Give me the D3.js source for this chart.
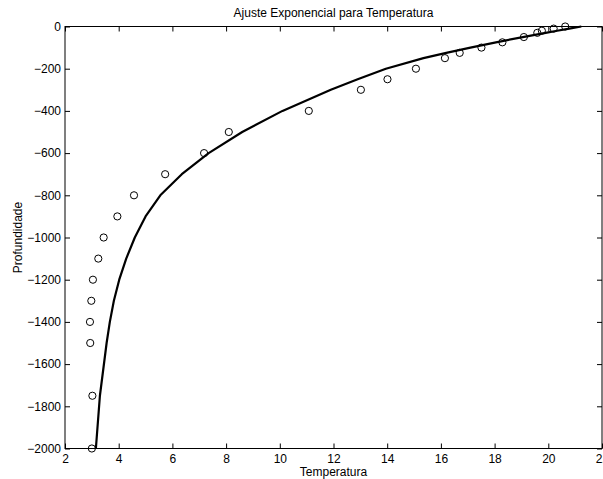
<!DOCTYPE html>
<html>
<head>
<meta charset="utf-8">
<script src="https://cdn.jsdelivr.net/npm/d3@7"></script>
<style>
  html, body { margin: 0; padding: 0; background: #fff; }
  svg { display: block; font-family: "Liberation Sans", Arial, Helvetica, sans-serif; }
</style>
</head>
<body>
<svg id="chart" width="603" height="479"></svg>
<script>
// ---- data ----
const depths   = [0, -10, -20, -30, -50, -75, -100, -125, -150, -200, -250, -300, -400, -500, -600, -700, -800, -900, -1000, -1100, -1200, -1300, -1400, -1500, -1750, -2000];
const tempObs  = [20.63, 20.2, 19.76, 19.59, 19.09, 18.29, 17.51, 16.70, 16.15, 15.07, 14.01, 13.02, 11.08, 8.1, 7.18, 5.73, 4.57, 3.95, 3.44, 3.24, 3.04, 2.98, 2.93, 2.94, 3.02, 3.0];
const tempFit  = [21.23, 20.78, 20.33, 19.9, 19.05, 18.05, 17.1, 16.2, 15.35, 13.95, 12.9, 11.9, 10.1, 8.6, 7.35, 6.35, 5.55, 5.0, 4.6, 4.28, 4.02, 3.82, 3.67, 3.55, 3.3, 3.15];
const xTicks   = [2, 4, 6, 8, 10, 12, 14, 16, 18, 20, 22];
const yTicks   = [-2000, -1800, -1600, -1400, -1200, -1000, -800, -600, -400, -200, 0];
const titleText  = "Ajuste Exponencial para Temperatura";
const xLabelText = "Temperatura";
const yLabelText = "Profundidade";

// ---- layout ----
const W = 603, H = 479;
const pL = 65, pR = 602, pT = 26.5, pB = 448.5;
const svg = d3.select("#chart");

const x = d3.scaleLinear().domain([2, 22]).range([pL, pR]);
const y = d3.scaleLinear().domain([-2000, 0]).range([pB, pT]);
const fmt = d3.format("d");

// axes
const gB = svg.append("g").attr("transform", `translate(0,${pB})`)
  .call(d3.axisBottom(x).tickValues(xTicks).tickFormat(fmt).tickSizeInner(-5).tickSizeOuter(0).tickPadding(6));
const gT = svg.append("g").attr("transform", `translate(0,${pT})`)
  .call(d3.axisTop(x).tickValues(xTicks).tickFormat("").tickSizeInner(-5).tickSizeOuter(0));
const gL = svg.append("g").attr("transform", `translate(${pL},0)`)
  .call(d3.axisLeft(y).tickValues(yTicks).tickFormat(fmt).tickSizeInner(-5).tickSizeOuter(0).tickPadding(4));
const gR = svg.append("g").attr("transform", `translate(${pR},0)`)
  .call(d3.axisRight(y).tickValues(yTicks).tickFormat("").tickSizeInner(-5).tickSizeOuter(0));

[gB, gT, gL, gR].forEach(g => {
  g.select(".domain").remove();
  g.selectAll(".tick line").attr("stroke", "#000").attr("stroke-width", 1);
  g.selectAll("text").attr("fill", "#000").attr("font-size", 12)
    .attr("font-family", '"Liberation Sans", Arial, Helvetica, sans-serif');
});

// box
svg.append("rect").attr("x", pL).attr("y", pT)
  .attr("width", pR - pL).attr("height", pB - pT)
  .attr("fill", "none").attr("stroke", "#000").attr("stroke-width", 1);

// fitted curve
const pts = depths.map((d, i) => [tempFit[i], d]);
svg.append("path")
  .datum(pts)
  .attr("fill", "none").attr("stroke", "#000").attr("stroke-width", 2.2)
  .attr("stroke-linejoin", "round")
  .attr("d", d3.line().x(p => x(p[0])).y(p => y(p[1])));

// observations
svg.append("g").selectAll("circle")
  .data(depths.map((d, i) => [tempObs[i], d]))
  .join("circle")
  .attr("cx", p => x(p[0])).attr("cy", p => y(p[1])).attr("r", 3.6)
  .attr("fill", "none").attr("stroke", "#000").attr("stroke-width", 1);

// labels
svg.append("text").attr("x", (pL + pR) / 2).attr("y", 17)
  .attr("text-anchor", "middle").attr("font-size", 12).text(titleText);
svg.append("text").attr("x", (pL + pR) / 2).attr("y", 476)
  .attr("text-anchor", "middle").attr("font-size", 12).text(xLabelText);
svg.append("text")
  .attr("transform", `translate(22,${(pT + pB) / 2}) rotate(-90)`)
  .attr("text-anchor", "middle").attr("font-size", 12).text(yLabelText);
</script>
</body>
</html>
